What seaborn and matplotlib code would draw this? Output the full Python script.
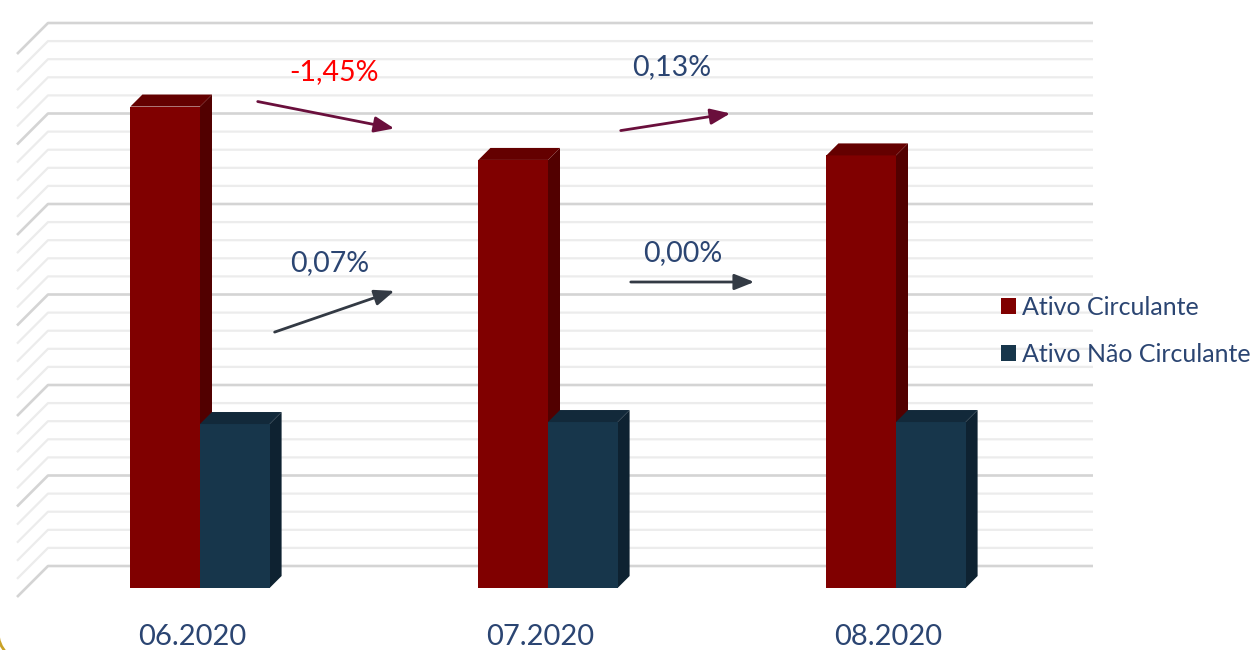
import matplotlib
matplotlib.use("Agg")
import matplotlib.pyplot as plt
from matplotlib.patches import Polygon, Patch, Arc
import pandas as pd
import seaborn as sns

# dados (unidades = linhas de grade menores)
meses = ["06.2020", "07.2020", "08.2020"]
series = ["Ativo Circulante", "Ativo Não Circulante"]
ativo_circulante = [26.6, 23.65, 23.9]
ativo_nao_circulante = [9.06, 9.17, 9.17]
variacoes = ["-1,45%", "0,13%", "0,07%", "0,00%"]

cores = {"Ativo Circulante": "#800000", "Ativo Não Circulante": "#17364b"}
lados = {"Ativo Circulante": "#520000", "Ativo Não Circulante": "#0e2231"}
topos = {"Ativo Circulante": "#640000", "Ativo Não Circulante": "#12293a"}
texto = "#2b4572"

df = pd.DataFrame({
    "mes": meses * 2,
    "valor": ativo_circulante + ativo_nao_circulante,
    "serie": [series[0]] * 3 + [series[1]] * 3,
})

sns.set_theme(style="white")
plt.rcParams["font.family"] = ["Lato", "DejaVu Sans"]

W, H = 1259, 650
fig = plt.figure(figsize=(W / 100, H / 100), dpi=100)
ax = fig.add_axes([0, 0, 1, 1])

# escala: 1 categoria = 348 px, 1 unidade = 18.1 px, base das barras em y=588 px
PXX, PXY = 348.0, 18.1
X0, Y0 = 200.0, 588.0

def d(xp, yp):
    return (xp - X0) / PXX, (Y0 - yp) / PXY

# parede de fundo + piso em perspectiva
for k in range(31):
    yp = 566 - 18.1 * k
    major = k % 5 == 0
    c = "#d4d4d4" if major else "#ececec"
    lw = 1.9 if major else 1.6
    xa, ya = d(48, yp)
    xb, yb = d(1093, yp)
    xc, yc = d(17, yp + 31)
    ax.plot([xc, xa, xb], [yc, ya, yb], color=c, lw=lw, zorder=0,
            solid_capstyle="butt")

sns.barplot(data=df, x="mes", y="valor", hue="serie", palette=cores,
            width=0.4, ax=ax, legend=False, saturation=1, zorder=2)
ax.set_xlim((0 - X0) / PXX, (W - X0) / PXX)
ax.set_ylim((Y0 - H) / PXY, Y0 / PXY)
ax.set_axis_off()

# faces lateral e superior (efeito 3D)
ddx, ddy = 12 / PXX, 12 / PXY
ordem = [s for s in series for _ in meses]
for bar, serie in zip(list(ax.patches), ordem):
    x, w, h = bar.get_x(), bar.get_width(), bar.get_height()
    bar.set_edgecolor("none")
    side = [(x + w, 0), (x + w + ddx, ddy), (x + w + ddx, h + ddy), (x + w, h)]
    top = [(x, h), (x + ddx, h + ddy), (x + w + ddx, h + ddy), (x + w, h)]
    ax.add_patch(Polygon(side, closed=True, facecolor=lados[serie],
                         edgecolor="none", zorder=1.9))
    ax.add_patch(Polygon(top, closed=True, facecolor=topos[serie],
                         edgecolor="none", zorder=2.1))

# rótulos das categorias
for i, m in enumerate(meses):
    ax.text(i - 8 / PXX, d(0, 637)[1], m, ha="center", va="center",
            fontsize=21, color=texto)

# setas de variação
setas = [
    ((255, 101), (397, 129), "#6a0f3c"),
    ((618, 131), (733, 113), "#6a0f3c"),
    ((272, 333), (397, 290), "#333a44"),
    ((628, 282), (757, 282), "#333a44"),
]
for (p0, p1, c) in setas:
    ax.annotate("", xy=d(*p1), xytext=d(*p0),
                arrowprops=dict(arrowstyle="-|>,head_length=1.0,head_width=0.4",
                                color=c, lw=2), zorder=4)

rotulos = [((334, 72), "red"), ((672, 67), texto), ((330, 263), texto), ((683, 253), texto)]
for (p, c), t in zip(rotulos, variacoes):
    ax.text(*d(*p), t, ha="center", va="center", fontsize=20.5, color=c, zorder=5)

# legenda
handles = [Patch(facecolor=cores[s], edgecolor="none") for s in series]
ax.legend(handles, series, loc="center left", frameon=False,
          bbox_to_anchor=(1001 / W, 1 - 331 / H), bbox_transform=fig.transFigure,
          fontsize=18, labelcolor=texto, handlelength=0.6, handleheight=0.6,
          handletextpad=0.25, labelspacing=0.95, borderpad=0, borderaxespad=0)

# borda dourada (canto inferior esquerdo)
fig.patches.append(Arc((0.28, 0.18), 0.6, 0.6, theta1=180, theta2=270,
                       edgecolor="#c9a227", lw=2,
                       transform=fig.dpi_scale_trans, figure=fig))

fig.savefig("out.png", dpi=100)
